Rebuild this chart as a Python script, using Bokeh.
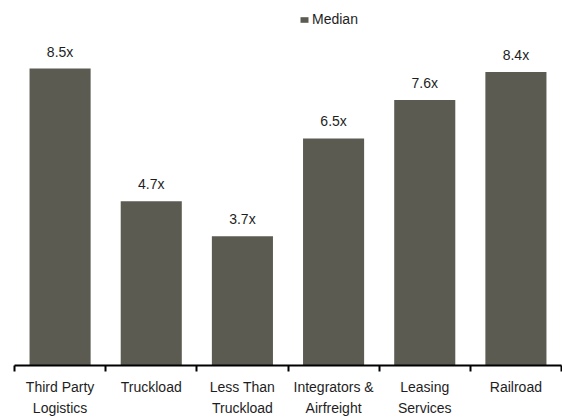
from bokeh.plotting import figure
from bokeh.models import ColumnDataSource, FixedTicker, LabelSet, Legend, LegendItem, Range1d
from bokeh.core.properties import value
from bokeh.embed import file_html
from bokeh.resources import INLINE

# Median EV/EBITDA multiples by transportation sub-sector
categories = ["Third Party\nLogistics", "Truckload", "Less Than\nTruckload",
              "Integrators &\nAirfreight", "Leasing\nServices", "Railroad"]
medians = [8.5, 4.7, 3.7, 6.5, 7.6, 8.4]
value_labels = [f"{v:.1f}x" for v in medians]

BAR = "#5b5b52"
FONT = "Liberation Sans"
TEXT = "#1e1e1e"

centers = [i + 0.5 for i in range(len(categories))]
src = ColumnDataSource(dict(x=centers, top=medians, lab=value_labels))

p = figure(width=562, height=419, output_backend="svg", toolbar_location=None,
           x_range=Range1d(0, len(categories)), y_range=Range1d(0, 10.45),
           min_border_left=14, min_border_right=1, min_border_top=0, min_border_bottom=0)

r = p.vbar(x="x", top="top", width=0.67, source=src, fill_color=BAR, line_color=None)

p.add_layout(LabelSet(x="x", y="top", text="lab", source=src, y_offset=12,
                      text_align="center", text_baseline="alphabetic",
                      text_font=value(FONT), text_font_size=value("14px"),
                      text_color=TEXT))

legend = Legend(items=[LegendItem(label="Median", renderers=[r])],
                location=(285, 338), orientation="horizontal",
                glyph_width=10, glyph_height=7, label_standoff=3,
                label_height=14, label_text_font=FONT, label_text_font_size="14px",
                label_text_color=TEXT, padding=0, margin=0, spacing=0,
                border_line_color=None, background_fill_alpha=0)
p.add_layout(legend)

p.yaxis.visible = False
p.grid.visible = False
p.outline_line_color = None

ax = p.xaxis[0]
ax.ticker = FixedTicker(ticks=centers, minor_ticks=list(range(len(categories) + 1)))
ax.major_label_overrides = {c: lab for c, lab in zip(centers, categories)}
ax.major_tick_in = 0
ax.major_tick_out = 0
ax.minor_tick_in = 0
ax.minor_tick_out = 6
ax.minor_tick_line_color = "black"
ax.minor_tick_line_width = 2
ax.axis_line_color = "black"
ax.axis_line_width = 2
ax.major_label_standoff = 7
ax.major_label_text_font = FONT
ax.major_label_text_font_size = "14px"
ax.major_label_text_line_height = 1.35
ax.major_label_text_color = TEXT

open("out.html", "w").write(file_html(p, INLINE))
